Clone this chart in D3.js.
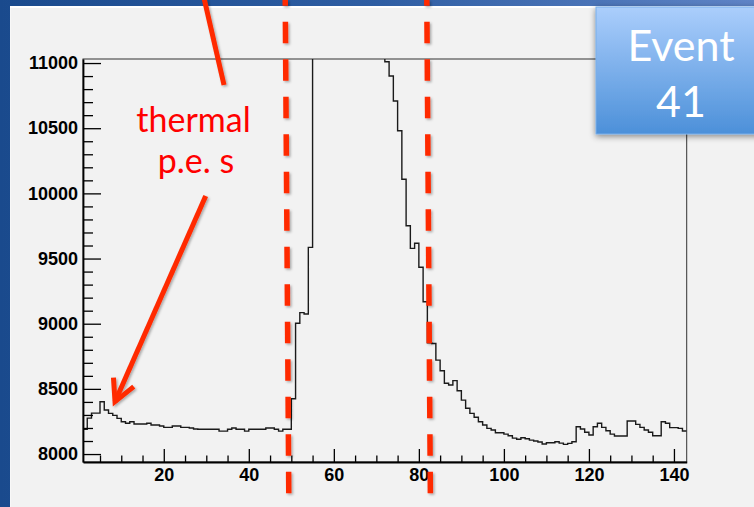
<!DOCTYPE html>
<html>
<head>
<meta charset="utf-8">
<script src="https://cdn.jsdelivr.net/npm/d3@7"></script>
<style>
  body { margin: 0; background: #ffffff; }
  svg { display: block; }
</style>
</head>
<body>
<div id="chart"></div>
<script>

// histogram bins: left edge of first bin, bin width, contents (bins 1..142)
const binStart = 1;
const binWidth = 1;
const binValues = [
    8190, 8276, 8314, 8314, 8401, 8338, 8312, 8297, 8274, 8248,
    8236, 8248, 8230, 8230, 8230, 8236, 8223, 8223, 8215, 8205,
    8205, 8215, 8215, 8205, 8205, 8200, 8192, 8190, 8190, 8190,
    8190, 8190, 8176, 8176, 8190, 8200, 8190, 8190, 8176, 8190,
    8190, 8190, 8190, 8200, 8200, 8190, 8176, 8190, 8190, 8424,
    9003, 9085, 9075, 9586, 11600, 12400, 13100, 13600, 13900, 14000,
    13900, 13600, 13200, 12800, 12400, 12000, 11700, 11500, 11300, 11150,
    11060, 11010, 10901, 10709, 10481, 10108, 9752, 9578, 9617, 9433,
    9169, 8854, 8848, 8721, 8639, 8543, 8530, 8563, 8486, 8414,
    8351, 8312, 8282, 8248, 8223, 8197, 8184, 8163, 8163, 8153,
    8140, 8122, 8113, 8125, 8117, 8107, 8100, 8092, 8077, 8087,
    8087, 8094, 8084, 8074, 8082, 8094, 8210, 8192, 8167, 8146,
    8210, 8236, 8205, 8179, 8153, 8138, 8138, 8138, 8253, 8253,
    8228, 8205, 8184, 8167, 8140, 8140, 8248, 8236, 8203, 8203,
    8197, 8177
];

// axis ranges and ticks
const xDomain = [1, 143];
const yDomain = [7939, 11031];
const xTicks = [20, 40, 60, 80, 100, 120, 140];
const yTicks = [8000, 8500, 9000, 9500, 10000, 10500, 11000];
const xMinorStep = 5;
const yMinorStep = 100;

// slide annotations (in data units)
const cutTimes = [49.35, 82.65];
const noteLines = ["thermal", "p.e. s"];
const notePos = [[26.99, 10471], [27.58, 10156]];
const arrowTail = [29.86, 9980];
const arrowTip = [8.53, 8402];
const pointerLine = [[29.46, 11499], [34.17, 10832]];
const eventLines = ["Event", "41"];

class EventHistogram {

    constructor(width, height){
        this.width = width;
        this.height = height;
        this.marginTop = 59;
        this.marginRight = 67.3;
        this.marginLeft = 83;
        this.marginBottom = 45;
        this.svgElem = null;
        this.xScale = null;
        this.yScale = null;
    }

    createChart() {

        // Declare the x (horizontal position) scale.
        this.xScale = d3.scaleLinear()
            .domain(xDomain)
            .range([this.marginLeft, this.width - this.marginRight]);

        // Declare the y (vertical position) scale.
        this.yScale = d3.scaleLinear()
            .domain(yDomain)
            .range([this.height - this.marginBottom, this.marginTop]);

        // Create the SVG container.
        this.svgElem = d3.create("svg")
            .attr("width", this.width)
            .attr("height", this.height);

        this._appendDefs();
        this._appendBackground();
        this._appendFrame();
        this._appendHistogram();
        this._appendAxes();
        this._appendAnnotations();
        this._appendEventBox();

        return this.svgElem.node();
    }

    _appendDefs(){
        const defs = this.svgElem.append("defs");

        const bg = defs.append("linearGradient").attr("id", "slideBg")
            .attr("x1", 0).attr("x2", 1).attr("y1", 0).attr("y2", 0);
        bg.append("stop").attr("offset", 0).attr("stop-color", "#1a4a8d");
        bg.append("stop").attr("offset", 0.5).attr("stop-color", "#2f5ea3");
        bg.append("stop").attr("offset", 1).attr("stop-color", "#5f84c6");

        const box = defs.append("linearGradient").attr("id", "boxFill")
            .attr("x1", 0).attr("x2", 0).attr("y1", 0).attr("y2", 1);
        box.append("stop").attr("offset", 0).attr("stop-color", "#abcefc");
        box.append("stop").attr("offset", 1).attr("stop-color", "#4c90d9");

        defs.append("filter").attr("id", "redShadow")
            .attr("x", "-50%").attr("y", "-10%").attr("width", "200%").attr("height", "120%")
            .append("feDropShadow")
            .attr("dx", 1.5).attr("dy", 1.5).attr("stdDeviation", 1.2)
            .attr("flood-color", "#000").attr("flood-opacity", 0.3);

        defs.append("filter").attr("id", "boxShadow")
            .attr("x", "-20%").attr("y", "-20%").attr("width", "140%").attr("height", "140%")
            .append("feDropShadow")
            .attr("dx", 0).attr("dy", 2).attr("stdDeviation", 3)
            .attr("flood-color", "#000").attr("flood-opacity", 0.45);

        defs.append("clipPath").attr("id", "frameClip")
            .append("rect")
            .attr("x", this.marginLeft)
            .attr("y", this.marginTop)
            .attr("width", this.width - this.marginRight - this.marginLeft)
            .attr("height", this.height - this.marginBottom - this.marginTop);
    }

    _appendBackground(){
        this.svgElem.append("rect")
            .attr("width", this.width).attr("height", this.height)
            .attr("fill", "url(#slideBg)");
        this.svgElem.append("rect")
            .attr("x", 10).attr("y", 6)
            .attr("width", this.width - 10).attr("height", this.height - 6)
            .attr("fill", "#ffffff");
        this.svgElem.append("rect")
            .attr("x", 10.5).attr("y", 8)
            .attr("width", this.width - 10.5).attr("height", this.height - 8)
            .attr("fill", "#f2f2f2");
    }

    _appendFrame(){
        this.svgElem.append("rect")
            .attr("x", this.marginLeft)
            .attr("y", this.marginTop)
            .attr("width", this.width - this.marginRight - this.marginLeft)
            .attr("height", this.height - this.marginBottom - this.marginTop)
            .attr("fill", "none")
            .attr("stroke", "#333")
            .attr("stroke-width", 1);
    }

    //step line of the histogram, clipped by the frame
    _appendHistogram(){
        const points = binValues.map((v, i) => [binStart + i * binWidth, v]);
        points.push([binStart + binValues.length * binWidth, binValues[binValues.length - 1]]);

        const line = d3.line()
            .x((d) => this.xScale(d[0]))
            .y((d) => this.yScale(d[1]))
            .curve(d3.curveStepAfter);

        this.svgElem.append("path")
            .attr("clip-path", "url(#frameClip)")
            .attr("fill", "none")
            .attr("stroke", "#1a1a1a")
            .attr("stroke-width", 1.4)
            .attr("d", line(points));
    }

    _appendAxes(){
        const bottom = this.height - this.marginBottom;
        const font = "'Liberation Sans', Arial, sans-serif";
        const fmt = d3.format("d");

        const xMinor = d3.range(xMinorStep, xDomain[1], xMinorStep).filter((t) => !xTicks.includes(t));
        const yMinor = d3.range(yTicks[0], yDomain[1], yMinorStep).filter((t) => !yTicks.includes(t));

        // minor ticks
        this.svgElem.append("g")
            .attr("transform", `translate(0,${bottom})`)
            .call(d3.axisBottom(this.xScale).tickValues(xMinor).tickSizeInner(-6.5).tickSizeOuter(0).tickFormat(""))
            .call((g) => g.select(".domain").remove());
        this.svgElem.append("g")
            .attr("transform", `translate(${this.marginLeft},0)`)
            .call(d3.axisLeft(this.yScale).tickValues(yMinor).tickSizeInner(-10).tickSizeOuter(0).tickFormat(""))
            .call((g) => g.select(".domain").remove());

        // Add the x-axis.
        this.svgElem.append("g")
            .attr("transform", `translate(0,${bottom})`)
            .call(d3.axisBottom(this.xScale).tickValues(xTicks).tickFormat(fmt)
                .tickSizeInner(-13).tickSizeOuter(0).tickPadding(6))
            .call((g) => g.selectAll("text")
                .attr("font-family", font)
                .attr("font-weight", "bold")
                .attr("font-size", 18)
                .attr("fill", "#000"));

        // Add the y-axis.
        this.svgElem.append("g")
            .attr("transform", `translate(${this.marginLeft},0)`)
            .call(d3.axisLeft(this.yScale).tickValues(yTicks).tickFormat(fmt)
                .tickSizeInner(-18).tickSizeOuter(0).tickPadding(5))
            .call((g) => g.selectAll("text")
                .attr("font-family", font)
                .attr("font-weight", "bold")
                .attr("font-size", 18)
                .attr("fill", "#000"));

        this.svgElem.selectAll(".tick line").attr("stroke", "#000").attr("stroke-width", 1.3);
        this.svgElem.selectAll(".domain").attr("stroke", "#000").attr("stroke-width", 1.8);
    }

    //red dashed cut lines, arrows and the "thermal p.e. s" note
    _appendAnnotations(){
        const slope = 0.0072;
        const bottom = this.height - this.marginBottom;
        const red = "#ff2a00";

        const notes = this.svgElem.append("g").attr("filter", "url(#redShadow)");

        notes.selectAll("line.cut")
            .data(cutTimes)
            .join("line")
            .attr("class", "cut")
            .attr("x1", (d) => this.xScale(d) - bottom * slope)
            .attr("y1", 0)
            .attr("x2", (d) => this.xScale(d) + (this.height - bottom) * slope)
            .attr("y2", this.height)
            .attr("stroke", red)
            .attr("stroke-width", 5.5)
            .attr("stroke-dasharray", "21.5 16")
            .attr("stroke-dashoffset", 15.75);

        notes.append("line")
            .attr("x1", this.xScale(pointerLine[0][0]))
            .attr("y1", this.yScale(pointerLine[0][1]))
            .attr("x2", this.xScale(pointerLine[1][0]))
            .attr("y2", this.yScale(pointerLine[1][1]))
            .attr("stroke", red)
            .attr("stroke-width", 5);

        const tx = this.xScale(arrowTip[0]), ty = this.yScale(arrowTip[1]);
        const sx = this.xScale(arrowTail[0]), sy = this.yScale(arrowTail[1]);
        const back = Math.atan2(sy - ty, sx - tx);
        const headLen = 24, spread = 27.5 * Math.PI / 180;
        const barb = (a) => [tx + headLen * Math.cos(back + a), ty + headLen * Math.sin(back + a)];
        const b1 = barb(-spread), b2 = barb(spread);

        notes.append("line")
            .attr("x1", sx).attr("y1", sy)
            .attr("x2", tx).attr("y2", ty)
            .attr("stroke", red)
            .attr("stroke-width", 5);
        notes.append("path")
            .attr("d", `M${b1[0]},${b1[1]}L${tx},${ty}L${b2[0]},${b2[1]}`)
            .attr("fill", "none")
            .attr("stroke", red)
            .attr("stroke-width", 5)
            .attr("stroke-linejoin", "miter");

        this.svgElem.append("g")
            .selectAll("text")
            .data(noteLines)
            .join("text")
            .attr("x", (d, i) => this.xScale(notePos[i][0]))
            .attr("y", (d, i) => this.yScale(notePos[i][1]))
            .attr("text-anchor", "middle")
            .attr("font-family", "Lato, 'Open Sans', sans-serif")
            .attr("font-size", 34)
            .attr("fill", "#ff0000")
            .text((d) => d);
    }

    _appendEventBox(){
        const g = this.svgElem.append("g");
        g.append("rect")
            .attr("x", 596).attr("y", 7)
            .attr("width", 170).attr("height", 127)
            .attr("fill", "url(#boxFill)")
            .attr("stroke", "#79aee9")
            .attr("stroke-width", 1)
            .attr("filter", "url(#boxShadow)");
        g.selectAll("text")
            .data(eventLines)
            .join("text")
            .attr("x", 681)
            .attr("y", (d, i) => 61 + i * 56)
            .attr("text-anchor", "middle")
            .attr("font-family", "Lato, 'Open Sans', sans-serif")
            .attr("font-size", 43)
            .attr("fill", "#ffffff")
            .text((d) => d);
    }
}

const chart = new EventHistogram(754, 507);
document.getElementById("chart").appendChild(chart.createChart());
</script>
</body>
</html>
